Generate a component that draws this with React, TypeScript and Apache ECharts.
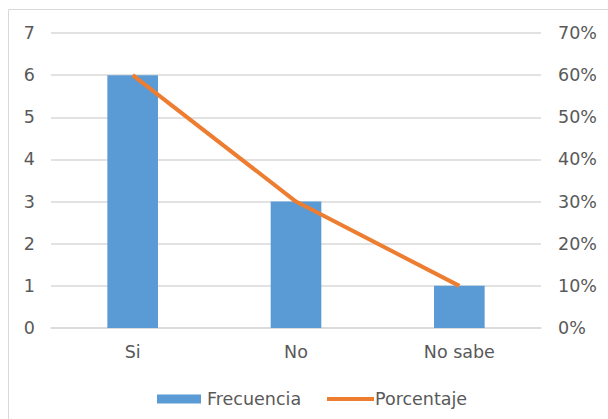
import React, { useEffect, useRef } from "react";
import * as echarts from "echarts";

const categories = ["Si", "No", "No sabe"];
const frecuencia = [6, 3, 1];
const porcentaje = [0.6, 0.3, 0.1];
const leftTicks = [0, 1, 2, 3, 4, 5, 6, 7];

const TEXT = "#595959";
const FONT = "DejaVu Sans";
const FS = 17.5;

export default function App() {
  const ref = useRef<HTMLDivElement>(null);

  useEffect(() => {
    if (!ref.current) return;
    const chart = echarts.init(ref.current, null, { renderer: "svg" });
    chart.setOption({
      animation: false,
      backgroundColor: "#ffffff",
      textStyle: { fontFamily: FONT, color: TEXT },
      graphic: [
        {
          type: "rect",
          shape: { x: 8.5, y: 9.5, width: 640, height: 440 },
          style: { fill: "none", stroke: "#D9D9D9", lineWidth: 1 },
          silent: true,
        },
      ],
      grid: { left: 51, right: 67, top: 33, bottom: 91 },
      legend: [
        {
          data: ["Frecuencia"],
          left: 152,
          top: 385,
          icon: "rect",
          itemWidth: 44,
          itemHeight: 9,
          itemGap: 6,
          textStyle: { fontFamily: FONT, fontSize: FS, color: TEXT, padding: [0, 0, 0, 1] },
        },
        {
          data: ["Porcentaje"],
          left: 322,
          top: 385,
          icon: "rect",
          itemWidth: 47,
          itemHeight: 4,
          textStyle: { fontFamily: FONT, fontSize: FS, color: TEXT, padding: [0, 0, 0, -4] },
        },
      ],
      xAxis: {
        type: "category",
        data: categories,
        axisTick: { show: false },
        axisLine: { lineStyle: { color: "#D9D9D9", width: 1.5 } },
        axisLabel: { fontFamily: FONT, fontSize: FS, color: TEXT, margin: 15 },
      },
      yAxis: [
        {
          type: "value",
          min: leftTicks[0],
          max: leftTicks[leftTicks.length - 1],
          interval: 1,
          axisLine: { show: false },
          axisTick: { show: false },
          splitLine: { lineStyle: { color: "#D9D9D9", width: 1.5 } },
          axisLabel: { fontFamily: FONT, fontSize: FS, color: TEXT, margin: 16 },
        },
        {
          type: "value",
          min: 0,
          max: 0.7,
          interval: 0.1,
          position: "right",
          axisLine: { show: false },
          axisTick: { show: false },
          splitLine: { show: false },
          axisLabel: {
            fontFamily: FONT,
            fontSize: FS,
            color: TEXT,
            margin: 17,
            formatter: (v: number) => `${Math.round(v * 100)}%`,
          },
        },
      ],
      series: [
        {
          name: "Frecuencia",
          type: "bar",
          data: frecuencia,
          barWidth: "31%",
          itemStyle: { color: "#5B9BD5" },
          yAxisIndex: 0,
        },
        {
          name: "Porcentaje",
          type: "line",
          data: porcentaje,
          yAxisIndex: 1,
          showSymbol: false,
          symbol: "none",
          lineStyle: { color: "#ED7D31", width: 4 },
          itemStyle: { color: "#ED7D31" },
        },
      ],
    });
    return () => chart.dispose();
  }, []);

  return <div ref={ref} style={{ width: 608, height: 419, position: "absolute", left: 0, top: 0 }} />;
}
